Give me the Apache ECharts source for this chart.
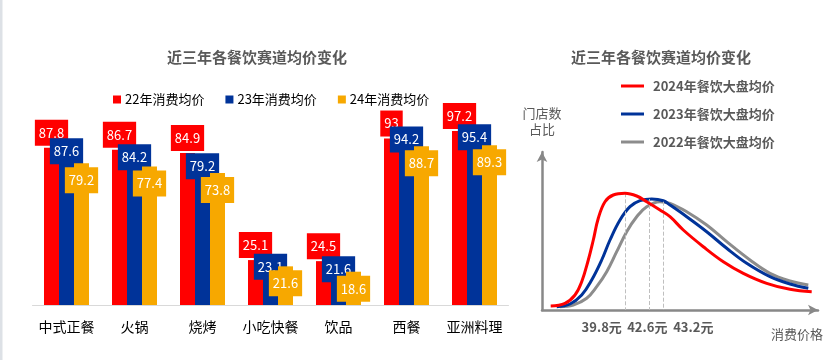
<!DOCTYPE html>
<html>
<head>
<meta charset="utf-8">
<script src="https://cdn.jsdelivr.net/npm/echarts@6/dist/echarts.min.js"></script>
<style>
html,body{margin:0;padding:0;background:#fff;}
#c{width:832px;height:360px;}
</style>
</head>
<body>
<div id="c"></div>
<script>
// ---- Left chart data ----
var categories = ['中式正餐','火锅','烧烤','小吃快餐','饮品','西餐','亚洲料理'];
var s22 = [87.8, 86.7, 84.9, 25.1, 24.5, 93, 97.2];
var s23 = [87.6, 84.2, 79.2, 23.1, 21.6, 94.2, 95.4];
var s24 = [79.2, 77.4, 73.8, 21.6, 18.6, 88.7, 89.3];
var barNames = ['22年消费均价','23年消费均价','24年消费均价'];

// ---- Right chart data (schematic curves) ----
var lineNames = ['2024年餐饮大盘均价','2023年餐饮大盘均价','2022年餐饮大盘均价'];
var curve2024 = [[8.7,4],[23,6.7],[33,15],[39.7,28.3],[46.3,50],[51.3,70],[56.3,91.7],[63,108.3],[71.3,115],[83,116.7],[94.7,114],[104.7,108.3],[118,100],[128,93.3],[141.3,80],[161.3,63.3],[181.3,48.3],[201.3,36.7],[224.7,26.7],[248,20.7],[269.7,18.3]];
var curve2023 = [[14.7,3.3],[28,6],[39.7,15],[49.7,30],[59.7,50],[68,70],[78,90],[88,103.3],[98,109.3],[109.7,111],[121.3,109.3],[128,105],[144.7,93.3],[164.7,78.3],[184.7,61.7],[204.7,46.7],[228,33.3],[248,26],[266.3,21.7]];
var curve2022 = [[18,3.3],[31.3,5],[44.7,11.7],[54.7,23.3],[64.7,38.3],[74.7,58.3],[84.7,78.3],[94.7,93.3],[104.7,103.3],[118,108.3],[128,106.7],[144.7,98.3],[164.7,85],[184.7,68.3],[208,50],[228,36.7],[248,29],[266.3,25]];
var peaks = [[83.7,116.7],[107.3,111],[121.3,108.3]];
var priceLabels = ['39.8元','42.6元','43.2元'];

var FONT = '"Noto Sans CJK SC","Noto Sans",sans-serif';
var barColors = ['#FF0000','#003399','#F7A800'];
var lineColors = ['#FF0000','#003399','#8C8C8C'];
var labelOffsets = [[0,-2],[0,16],[0,30]];

var chart = echarts.init(document.getElementById('c'), null, {renderer:'canvas'});

var barSeries = [s22, s23, s24].map(function(d, i){
  return {
    name: barNames[i], type:'bar', xAxisIndex:0, yAxisIndex:0,
    data: d, barWidth: 15, barGap: '0%',
    itemStyle:{color: barColors[i]},
    label:{
      show:true, position:'top', distance:0, offset: labelOffsets[i],
      color:'#fff', fontSize:13, fontFamily:FONT, lineHeight:14,
      backgroundColor: barColors[i], padding:[6,4]
    },
    z: 2 + i
  };
});

var curves = [curve2024, curve2023, curve2022];
var lineSeries = curves.map(function(d, i){
  return {
    name: lineNames[i], type:'line', xAxisIndex:1, yAxisIndex:1,
    data: d, smooth: 0.4, symbol:'none', showSymbol:false,
    lineStyle:{color: lineColors[i], width:3},
    itemStyle:{color: lineColors[i]},
    z: 5 - i,
    markLine:{
      silent:true, symbol:'none',
      lineStyle:{type:'dashed', color:'#BFBFBF', width:1},
      label:{
        show:true, position:'end', distance:11,
        formatter: priceLabels[i], offset: [[-24,0],[-2,0],[30,0]][i],
        color:'#595959', fontSize:13, fontWeight:'bold', fontFamily:FONT
      },
      data:[[{coord:[peaks[i][0], peaks[i][1]]},{coord:[peaks[i][0], 0]}]]
    }
  };
});

chart.setOption({
  animation:false,
  textStyle:{fontFamily:FONT},
  title:[
    {text:'近三年各餐饮赛道均价变化', left:162, top:45,
     textStyle:{fontSize:15, fontWeight:'bold', color:'#595959', fontFamily:FONT}},
    {text:'近三年各餐饮赛道均价变化', left:566, top:45,
     textStyle:{fontSize:15, fontWeight:'bold', color:'#595959', fontFamily:FONT}}
  ],
  legend:[
    {data: barNames, left:108, top:88, icon:'rect', itemWidth:8, itemHeight:8, itemGap:21,
     textStyle:{fontSize:13, color:'#000', fontFamily:FONT, padding:[0,0,0,-1]}},
    {data: lineNames, orient:'vertical', left:616, top:73, icon:'rect', itemWidth:23, itemHeight:3, itemGap:12,
     textStyle:{fontSize:13, lineHeight:16, color:'#595959', fontWeight:'bold', fontFamily:FONT, padding:[0,0,0,4]}}
  ],
  grid:[
    {left:32.5, top:126, width:476, height:179},
    {left:542, top:152, width:276, height:158}
  ],
  xAxis:[
    {type:'category', gridIndex:0, data:categories,
     axisLine:{lineStyle:{color:'#D9D9D9'}}, axisTick:{show:false},
     axisLabel:{interval:0, color:'#000', fontSize:14, margin:15, fontFamily:FONT}},
    {type:'value', gridIndex:1, min:0, max:276,
     axisLine:{show:true, symbol:['none','arrow'], symbolSize:[8,10], lineStyle:{color:'#888', width:2.5}},
     axisTick:{show:false}, axisLabel:{show:false}, splitLine:{show:false},
     name:'消费价格', nameLocation:'end', nameGap:5,
     nameTextStyle:{align:'right', verticalAlign:'top', padding:[18,0,0,0], color:'#595959', fontSize:13, fontFamily:FONT}}
  ],
  yAxis:[
    {type:'value', gridIndex:0, min:0, max:100, show:false},
    {type:'value', gridIndex:1, min:0, max:158,
     axisLine:{show:true, symbol:['none','arrow'], symbolSize:[8,10], lineStyle:{color:'#888', width:2.5}},
     axisTick:{show:false}, axisLabel:{show:false}, splitLine:{show:false},
     name:'门店数\n占比', nameLocation:'end', nameGap:15,
     nameTextStyle:{align:'center', color:'#595959', fontSize:13, lineHeight:16, fontFamily:FONT}}
  ],
  graphic:[
    {type:'rect', left:0, top:0, shape:{width:2.5, height:360}, style:{fill:'#DDE1E6'}, silent:true}
  ],
  series: barSeries.concat(lineSeries)
});
</script>
</body>
</html>
